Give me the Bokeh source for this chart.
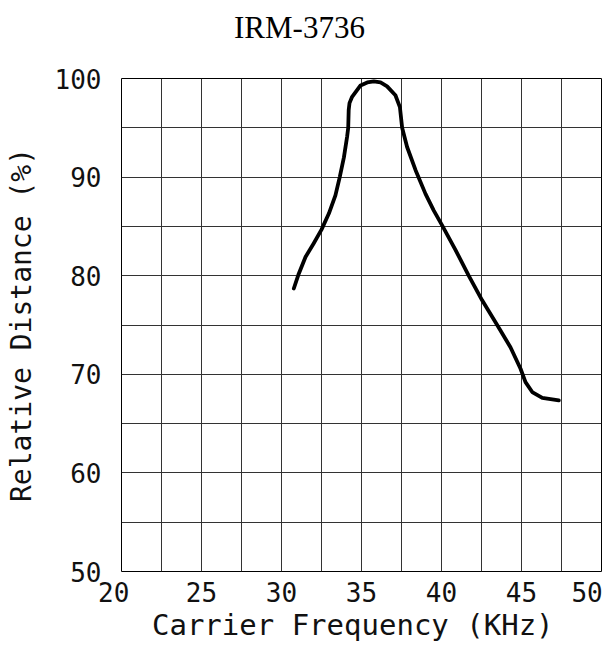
from bokeh.plotting import figure
from bokeh.models import Range1d, FixedTicker, LinearAxis
from bokeh.embed import file_html
from bokeh.resources import INLINE

title_text = "IRM-3736"
x_label = "Carrier Frequency (KHz)"
y_label = "Relative Distance (%)"
x_ticks = [20, 25, 30, 35, 40, 45, 50]
x_minor = [22.5, 27.5, 32.5, 37.5, 42.5, 47.5]
y_ticks = [50, 60, 70, 80, 90, 100]
y_minor = [55, 65, 75, 85, 95]

freq = [30.77, 31.08, 31.5, 32.0, 32.5, 32.96, 33.37, 33.64, 33.9, 34.1,
        34.17, 34.2, 34.25, 34.4, 34.94, 35.36, 35.77, 36.19, 36.6, 37.12,
        37.4, 37.54, 37.85, 38.38, 39.0, 39.52, 40.04, 40.88, 41.7, 42.54,
        43.48, 44.31, 44.94, 45.25, 45.67, 46.3, 47.33]
rel_dist = [78.7, 80.2, 81.9, 83.25, 84.67, 86.3, 88.15, 90.0, 92.0, 94.1,
            95.0, 96.8, 97.5, 98.1, 99.3, 99.6, 99.7, 99.6, 99.2, 98.3,
            97.1, 95.0, 93.05, 90.7, 88.3, 86.6, 85.1, 82.6, 80.0, 77.5,
            75.0, 72.75, 70.56, 69.2, 68.2, 67.6, 67.35]

# label placement helpers (layout only)
last_label_pos = x_ticks[-1] - 0.9   # last x label flush with the frame edge
title_pos = 31.125                   # horizontal centre of the title

p = figure(width=612, height=645,
           x_range=Range1d(x_ticks[0], x_ticks[-1]),
           y_range=Range1d(y_ticks[0], y_ticks[-1]),
           output_backend="svg", toolbar_location=None,
           min_border_left=121, min_border_right=11,
           min_border_top=78, min_border_bottom=74)

p.background_fill_color = "white"
p.border_fill_color = "white"
p.outline_line_color = "black"
p.outline_line_width = 1

grid_x = FixedTicker(ticks=x_ticks, minor_ticks=x_minor)
grid_y = FixedTicker(ticks=y_ticks, minor_ticks=y_minor)
axis_x = FixedTicker(ticks=x_ticks[:-1] + [last_label_pos])
p.xaxis.ticker = axis_x
p.yaxis.ticker = grid_y
p.xgrid.ticker = grid_x
p.ygrid.ticker = grid_y
for g in (p.xgrid, p.ygrid):
    g.grid_line_color = "#333333"
    g.grid_line_width = 1
    g.minor_grid_line_color = "#333333"
    g.minor_grid_line_width = 1

def plain(ax):
    ax.axis_line_color = None
    ax.major_tick_line_color = None
    ax.minor_tick_line_color = None
    ax.major_tick_out = 0
    ax.major_tick_in = 0
    ax.minor_tick_out = 0
    ax.minor_tick_in = 0

for ax in (p.xaxis[0], p.yaxis[0]):
    plain(ax)
    ax.major_label_text_font = "DejaVu Sans Mono"
    ax.major_label_text_font_size = "26px"
    ax.major_label_text_color = "#111111"
    ax.axis_label_text_font = "DejaVu Sans Mono"
    ax.axis_label_text_font_style = "normal"
    ax.axis_label_text_color = "#111111"

xa = p.xaxis[0]
ya = p.yaxis[0]
xa.major_label_standoff = 6
ya.major_label_standoff = 20
xa.axis_label = x_label + "\u00a0"
ya.axis_label = y_label
xa.axis_label_text_font_size = "29px"
ya.axis_label_text_font_size = "28px"
xa.axis_label_standoff = -3
ya.axis_label_standoff = 14
xa.major_label_overrides = {x_ticks[0]: str(x_ticks[0]) + "\u00a0",
                            last_label_pos: str(x_ticks[-1])}

# title drawn as the single label of an axis above the frame
top_axis = LinearAxis(ticker=FixedTicker(ticks=[title_pos]))
plain(top_axis)
top_axis.major_label_overrides = {title_pos: title_text}
top_axis.major_label_text_font = "Liberation Serif"
top_axis.major_label_text_font_size = "31px"
top_axis.major_label_text_color = "black"
top_axis.major_label_standoff = 34
p.add_layout(top_axis, "above")

p.line(freq, rel_dist, line_width=3.8, line_color="black",
       line_join="round", line_cap="round")

open("out.html", "w").write(file_html(p, INLINE))
